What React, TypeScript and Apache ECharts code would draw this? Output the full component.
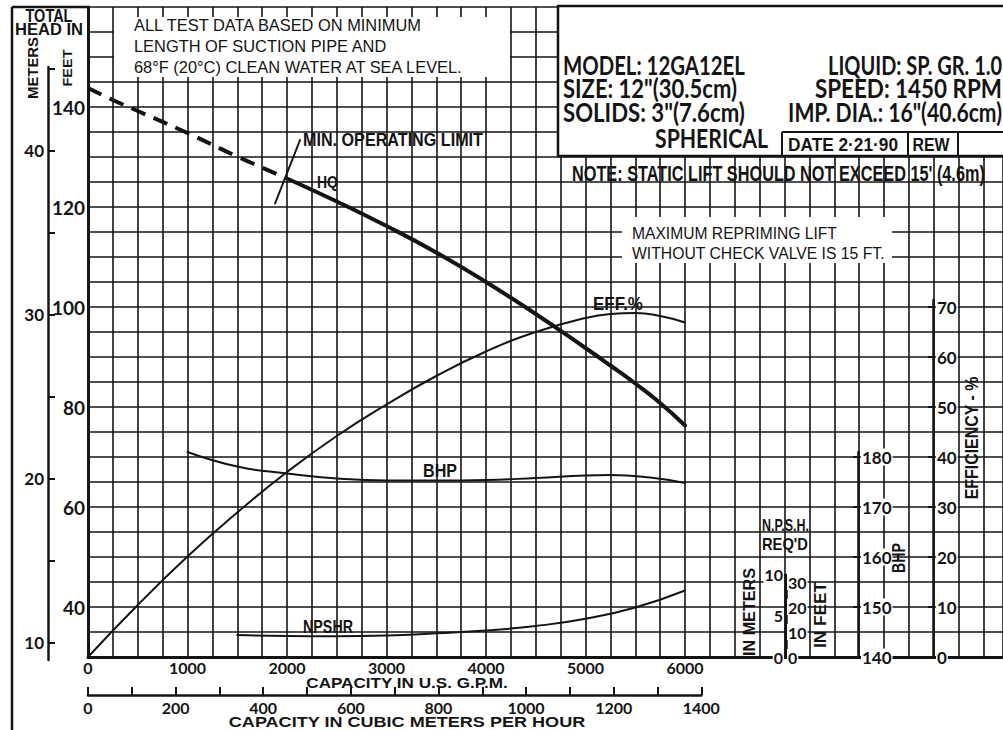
import React, { useEffect, useRef } from 'react';
import * as echarts from 'echarts';

// ---------------- data ----------------
// capacity in U.S. GPM, head in feet
const HQ_BELOW_LIMIT: [number, number][] = [
  [0, 143.8], [250, 141.4], [500, 139.2], [1000, 134.8], [1500, 130.1], [2000, 125.7],
];
const HQ_OPERATING: [number, number][] = [
  [2000, 125.7], [2500, 121.1], [3000, 116.2], [3500, 110.9], [4000, 105.0], [4500, 98.6],
  [5000, 91.8], [5250, 88.3], [5500, 84.7], [5750, 80.8], [6000, 76.3],
];
// efficiency in %
const EFF_PCT: [number, number][] = [
  [0, 0], [500, 10.4], [1000, 20.1], [1500, 28.9], [2000, 37.0], [2500, 44.2], [3000, 50.5],
  [3500, 56.2], [4000, 61.1], [4500, 65.0], [5000, 67.8], [5250, 68.6], [5500, 68.8],
  [5750, 68.2], [6000, 66.9],
];
// brake horsepower
const BHP_VALUES: [number, number][] = [
  [1000, 181.0], [1500, 178.1], [2000, 176.7], [2500, 175.7], [3000, 175.3], [3500, 175.3],
  [4000, 175.4], [4500, 175.8], [5000, 176.3], [5250, 176.4], [5650, 175.9], [6000, 174.8],
];
// NPSH required in feet
const NPSHR_FT: [number, number][] = [
  [1500, 8.8], [2000, 8.4], [2500, 8.3], [3000, 8.6], [3500, 9.5], [4000, 10.6],
  [4500, 12.4], [5000, 15.3], [5500, 19.8], [6000, 26.6],
];
// short stroke marking the minimum operating limit on the HQ curve
const MIN_LIMIT_MARK: [number, number][] = [[1880, 120.7], [2131, 133.4]];

// tick labels
const GPM_TICK_LABELS = [0, 1000, 2000, 3000, 4000, 5000, 6000];
const M3H_TICKS = [0, 100, 200, 300, 400, 500, 600, 700, 800, 900, 1000, 1100, 1200, 1300, 1400];
const M3H_TICK_LABELS = [0, 200, 400, 600, 800, 1000, 1200, 1400];
const FEET_TICK_LABELS = [40, 60, 80, 100, 120, 140];
const METER_TICKS = [10, 15, 20, 25, 30, 35, 40, 45];
const METER_TICK_LABELS = [10, 20, 30, 40];
const NPSH_M_LABELS = [0, 5, 10];
const NPSH_FT_LABELS = [0, 10, 20, 30];
const BHP_LABELS = [140, 150, 160, 170, 180];
const EFF_LABELS = [0, 10, 20, 30, 40, 50, 60, 70];

// ---------------- layout ----------------
const W = 1003;
const H = 730;
const INK = '#141414';
const BOLD = 'Liberation Sans';
const LETTER = 'Lato';

const PLOT_L = 88;
const PLOT_T = 7;
const PLOT_B = 657;
const PLOT_R = 1003;
const PX_PER_FT = 5;
const FT_MIN = 30;
const FT_MAX = FT_MIN + (PLOT_B - PLOT_T) / PX_PER_FT;
const PX_PER_GPM = 0.0995;
const GPM_MAX = (PLOT_R - PLOT_L) / PX_PER_GPM;
const GPM_PER_M3H = 4.4029;
const FT_PER_M = 3.28084;
const NPSH_PX_PER_FT = 2.5;
const PX_PER_BHP = 5;
const PX_PER_PCT = 5;

const METER_TOP = 67;
const METER_BOT = 660;
const ftAt = (y: number) => FT_MIN + (PLOT_B - y) / PX_PER_FT;

const NPSH_AXIS_H = 10 * FT_PER_M * NPSH_PX_PER_FT;
const BHP_AXIS_TOP = 452;
const EFF_AXIS_TOP = 300;
const M3H_AXIS_Y = 695;

let measureCtx: CanvasRenderingContext2D | null = null;
function measure(text: string, size: number, family: string, weight: string) {
  if (!measureCtx) measureCtx = document.createElement('canvas').getContext('2d');
  if (!measureCtx) return 0;
  measureCtx.font = `${weight} ${size}px "${family}"`;
  return measureCtx.measureText(text).width;
}

type TOpt = { size: number; family?: string; weight?: string; w?: number; align?: 'left' | 'center' | 'right'; rot?: number };
function txt(text: string, x: number, y: number, o: TOpt) {
  const family = o.family ?? BOLD;
  const weight = o.weight ?? 'bold';
  const m = measure(text, o.size, family, weight);
  const sx = o.w && m > 0 ? o.w / m : 1;
  return {
    type: 'text', x, y, rotation: o.rot ?? 0, scaleX: sx, scaleY: 1, z: 120, silent: true,
    style: {
      text, fontSize: o.size, fontFamily: family, fontWeight: weight, fill: INK,
      align: o.align ?? 'left', verticalAlign: 'middle',
    },
  };
}
function seg(x1: number, y1: number, x2: number, y2: number, lw: number) {
  return { type: 'line', z: 115, silent: true, shape: { x1, y1, x2, y2 }, style: { stroke: INK, lineWidth: lw } };
}

const GRID_LINE = { color: '#151515', width: 1.6 };
const plain = (v: number) => String(v);
const numLabel = (size: number, extra: object = {}) => ({
  color: INK, fontFamily: LETTER, fontWeight: 'bold', fontSize: size, formatter: plain, ...extra,
});
const hiddenX = (gridIndex: number) => ({ gridIndex, type: 'value', show: false, min: 0, max: 1 });

function buildOption() {
  const grid = [
    { left: PLOT_L, top: PLOT_T, width: PLOT_R - PLOT_L, height: PLOT_B - PLOT_T },
    { left: PLOT_L, top: M3H_AXIS_Y - 8, width: 1400 * GPM_PER_M3H * PX_PER_GPM, height: 8 },
    { left: 48, top: METER_TOP, width: 1, height: METER_BOT - METER_TOP },
    { left: 785, top: PLOT_B - NPSH_AXIS_H, width: 1, height: NPSH_AXIS_H },
    { left: 858, top: BHP_AXIS_TOP, width: 1, height: PLOT_B - BHP_AXIS_TOP },
    { left: 933, top: EFF_AXIS_TOP, width: 1, height: PLOT_B - EFF_AXIS_TOP },
  ];

  const xAxis = [
    {
      gridIndex: 0, type: 'value', min: 0, max: GPM_MAX, interval: 250, position: 'bottom',
      axisLine: { show: true, onZero: false, lineStyle: { color: INK, width: 3 } },
      axisTick: { show: false },
      axisLabel: numLabel(16, { customValues: GPM_TICK_LABELS, margin: 2 }),
      splitLine: { show: true, lineStyle: GRID_LINE },
    },
    {
      gridIndex: 1, type: 'value', min: 0, max: 1400, position: 'bottom',
      axisLine: { show: true, onZero: false, lineStyle: { color: INK, width: 2.5 } },
      axisTick: { show: true, inside: true, length: 8, customValues: M3H_TICKS, lineStyle: { color: INK, width: 2 } },
      axisLabel: numLabel(16, { customValues: M3H_TICK_LABELS, margin: 4 }),
      splitLine: { show: false },
    },
    hiddenX(2), hiddenX(3), hiddenX(4), hiddenX(5),
  ];

  const smallAxisLabel = (size: number, values: number[], extra: object = {}) =>
    numLabel(size, { customValues: values, backgroundColor: '#fff', padding: [0, 1], ...extra });

  const yAxis = [
    {
      gridIndex: 0, type: 'value', min: FT_MIN, max: FT_MAX, interval: 5, position: 'left',
      axisLine: { show: true, onZero: false, lineStyle: { color: INK, width: 3 } },
      axisTick: { show: false },
      axisLabel: numLabel(19, { customValues: FEET_TICK_LABELS, margin: 3 }),
      splitLine: { show: true, lineStyle: GRID_LINE },
    },
    { gridIndex: 0, type: 'value', show: false, min: 0, max: (PLOT_B - PLOT_T) / PX_PER_PCT },
    { gridIndex: 0, type: 'value', show: false, min: 140, max: 140 + (PLOT_B - PLOT_T) / PX_PER_BHP },
    { gridIndex: 0, type: 'value', show: false, min: 0, max: (PLOT_B - PLOT_T) / NPSH_PX_PER_FT },
    { gridIndex: 1, type: 'value', show: false, min: 0, max: 1 },
    {
      gridIndex: 2, type: 'value', position: 'left', z: 10,
      min: ftAt(METER_BOT) / FT_PER_M, max: ftAt(METER_TOP) / FT_PER_M,
      axisLine: { show: true, onZero: false, lineStyle: { color: INK, width: 2.5 } },
      axisTick: { show: true, inside: true, length: 7, customValues: METER_TICKS, lineStyle: { color: INK, width: 2 } },
      axisLabel: numLabel(17, { customValues: METER_TICK_LABELS, margin: 4 }),
      splitLine: { show: false },
    },
    {
      gridIndex: 3, type: 'value', position: 'left', z: 10, min: 0, max: 10,
      axisLine: { show: true, onZero: false, lineStyle: { color: INK, width: 2.5 } },
      axisTick: { show: true, inside: false, length: 6, customValues: NPSH_M_LABELS, lineStyle: { color: INK, width: 2 } },
      axisLabel: smallAxisLabel(16, NPSH_M_LABELS, { margin: 1 }),
      splitLine: { show: false },
    },
    {
      gridIndex: 3, type: 'value', position: 'right', z: 10, min: 0, max: 10 * FT_PER_M,
      axisLine: { show: true, onZero: false, lineStyle: { color: INK, width: 2.5 } },
      axisTick: { show: true, inside: false, length: 6, customValues: NPSH_FT_LABELS, lineStyle: { color: INK, width: 2 } },
      axisLabel: smallAxisLabel(16, NPSH_FT_LABELS, { margin: 1 }),
      splitLine: { show: false },
    },
    {
      gridIndex: 4, type: 'value', position: 'left', z: 10,
      min: 140, max: 140 + (PLOT_B - BHP_AXIS_TOP) / PX_PER_BHP,
      axisLine: { show: true, onZero: false, lineStyle: { color: INK, width: 2.5 } },
      axisTick: { show: true, inside: false, length: 5, customValues: BHP_LABELS, lineStyle: { color: INK, width: 2 } },
      axisLabel: smallAxisLabel(17, BHP_LABELS, { inside: true, margin: 3 }),
      splitLine: { show: false },
    },
    {
      gridIndex: 5, type: 'value', position: 'left', z: 10,
      min: 0, max: (PLOT_B - EFF_AXIS_TOP) / PX_PER_PCT,
      axisLine: { show: true, onZero: false, lineStyle: { color: INK, width: 2.5 } },
      axisTick: { show: true, inside: false, length: 5, customValues: EFF_LABELS, lineStyle: { color: INK, width: 2 } },
      axisLabel: smallAxisLabel(17, EFF_LABELS, { inside: true, margin: 3 }),
      splitLine: { show: false },
    },
  ];

  const curve = (name: string, data: [number, number][], yAxisIndex: number, width: number, extra: object = {}) => ({
    type: 'line', name, data, xAxisIndex: 0, yAxisIndex, smooth: 0.5, symbol: 'none', silent: true,
    lineStyle: { color: INK, width, cap: 'round', ...extra },
  });

  const series = [
    curve('HQ below min. operating limit', HQ_BELOW_LIMIT, 0, 4, { type: [15, 9], cap: 'butt' }),
    curve('HQ', HQ_OPERATING, 0, 4),
    curve('EFF.%', EFF_PCT, 1, 2),
    curve('BHP', BHP_VALUES, 2, 2),
    curve('NPSHR', NPSHR_FT, 3, 2),
    { ...curve('Min. operating limit', MIN_LIMIT_MARK, 0, 2), smooth: false },
  ];

  const HEAD_FONT = { size: 26, family: LETTER, weight: 'bold' };

  const graphic = [
    // page frame
    seg(12, 7, 12, H, 2.5),
    seg(12, 7, PLOT_L, 7, 2.5),
    txt('TOTAL', 49, 15, { size: 18, w: 47, align: 'center' }),
    txt('HEAD IN', 49, 29, { size: 16, w: 68, align: 'center' }),
    txt('METERS', 33, 68, { size: 14, w: 62, align: 'center', rot: Math.PI / 2 }),
    txt('FEET', 68, 68, { size: 13, w: 37, align: 'center', rot: Math.PI / 2 }),

    // test data note
    { type: 'rect', z: 110, silent: true, shape: { x: 114, y: 17, width: 396, height: 60 }, style: { fill: '#fff' } },
    txt('ALL TEST DATA BASED ON MINIMUM', 134, 25, { size: 16.4, weight: 'normal' }),
    txt('LENGTH OF SUCTION PIPE AND', 134, 46, { size: 16.4, weight: 'normal' }),
    txt('68°F (20°C) CLEAN WATER AT SEA LEVEL.', 134, 67, { size: 16.4, weight: 'normal' }),

    // title block
    { type: 'rect', z: 110, silent: true, shape: { x: 558, y: 6, width: 470, height: 150 }, style: { fill: '#fff', stroke: INK, lineWidth: 2.5 } },
    seg(782, 132, W, 132, 2),
    seg(782, 132, 782, 156, 2),
    seg(908, 132, 908, 156, 2),
    seg(958, 132, 958, 156, 2),
    txt('MODEL: 12GA12EL', 563, 65, { ...HEAD_FONT, w: 182 }),
    txt('SIZE: 12"(30.5cm)', 563, 88, { ...HEAD_FONT, w: 174 }),
    txt('SOLIDS: 3"(7.6cm)', 563, 112, { ...HEAD_FONT, w: 182 }),
    txt('SPHERICAL', 655, 138, { ...HEAD_FONT, w: 113 }),
    txt('LIQUID: SP. GR. 1.0', 1002, 65, { ...HEAD_FONT, w: 174, align: 'right' }),
    txt('SPEED: 1450 RPM', 1002, 88, { ...HEAD_FONT, w: 187, align: 'right' }),
    txt('IMP. DIA.: 16"(40.6cm)', 1002, 112, { ...HEAD_FONT, w: 214, align: 'right' }),
    txt('DATE 2·21·90', 843, 145, { size: 18, w: 110, align: 'center' }),
    txt('REW', 931, 145, { size: 18, w: 37, align: 'center' }),
    txt("NOTE: STATIC LIFT SHOULD NOT EXCEED 15' (4.6m)", 572, 173, { size: 22, w: 413 }),

    // repriming note
    { type: 'rect', z: 110, silent: true, shape: { x: 622, y: 217, width: 270, height: 46 }, style: { fill: '#fff' } },
    txt('MAXIMUM REPRIMING LIFT', 632, 233, { size: 16.5, weight: 'normal', w: 205 }),
    txt('WITHOUT CHECK VALVE IS 15 FT.', 632, 253, { size: 16.5, weight: 'normal', w: 253 }),

    // curve labels
    txt('MIN. OPERATING LIMIT', 303, 140, { size: 19, w: 180 }),
    txt('HQ', 317, 182, { size: 16, w: 21 }),
    txt('EFF.%', 593, 304, { size: 18, w: 50 }),
    txt('BHP', 423, 471, { size: 18, w: 34 }),
    txt('NPSHR', 303, 626, { size: 18, w: 50 }),

    // right-hand scales
    txt('N.P.S.H.', 762, 525, { size: 16, w: 47 }),
    txt("REQ'D", 762, 544, { size: 16, w: 46 }),
    txt('IN METERS', 749, 612, { size: 16, w: 88, align: 'center', rot: Math.PI / 2 }),
    txt('IN FEET', 821, 615, { size: 17, w: 66, align: 'center', rot: Math.PI / 2 }),
    txt('BHP', 898, 558, { size: 18, w: 30, align: 'center', rot: Math.PI / 2 }),
    txt('EFFICIENCY - %', 972, 438, { size: 18, w: 123, align: 'center', rot: Math.PI / 2 }),

    // axis captions
    txt('CAPACITY IN U.S. G.P.M.', 407, 682, { size: 15, w: 202, align: 'center' }),
    txt('CAPACITY IN CUBIC METERS PER HOUR', 407, 722, { size: 15, w: 357, align: 'center' }),
  ];

  return {
    animation: false,
    backgroundColor: '#fff',
    textStyle: { fontFamily: LETTER, color: INK },
    grid,
    xAxis,
    yAxis,
    series,
    graphic,
  };
}

export default function App() {
  const ref = useRef<HTMLDivElement>(null);
  useEffect(() => {
    if (!ref.current) return;
    const chart = echarts.init(ref.current, undefined, { renderer: 'svg', width: W, height: H });
    chart.setOption(buildOption() as any);
    return () => chart.dispose();
  }, []);
  return (
    <div
      ref={ref}
      style={{ position: 'absolute', left: 0, top: 0, width: W, height: H, background: '#fff' }}
    />
  );
}
